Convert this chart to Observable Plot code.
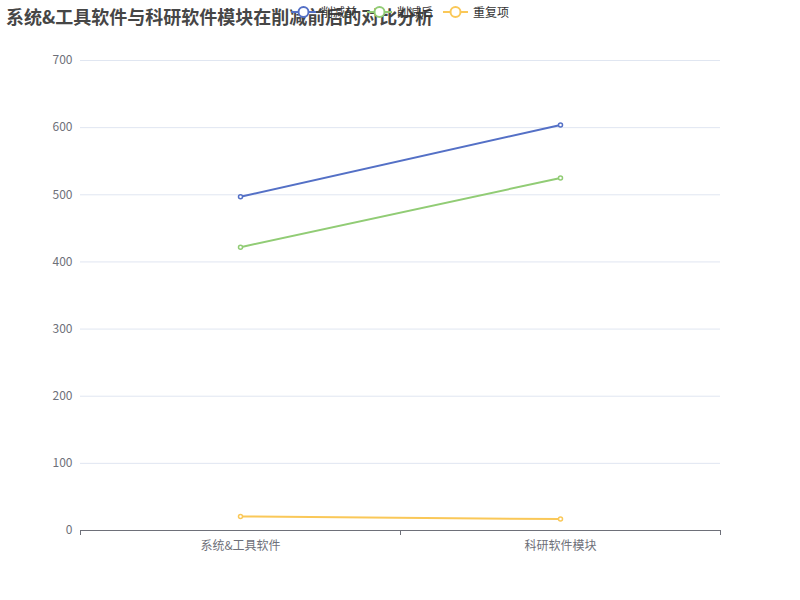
<!DOCTYPE html>
<html><head><meta charset="utf-8">
<script src="https://cdn.jsdelivr.net/npm/d3@7"></script>
<script src="https://cdn.jsdelivr.net/npm/@observablehq/plot@0.6"></script>
<style>
body{margin:0;background:#fff;font-family:"Noto Sans CJK SC","Noto Sans",sans-serif;}
#wrap{position:relative;width:800px;height:600px;}
#title{position:absolute;left:6px;top:3px;font-size:18px;font-weight:bold;color:#464646;white-space:nowrap;}
#legend{position:absolute;left:291px;top:3px;display:flex;gap:10px;font-size:12px;color:#333;}
.li{display:flex;align-items:center;gap:5px;}
#chart{position:absolute;left:0;top:0;}
</style></head>
<body><div id="wrap"><div id="chart"></div><div id="title"></div><div id="legend"></div></div>
<script>
const title = "系统&工具软件与科研软件模块在削减前后的对比分析";
const categories = ["系统&工具软件", "科研软件模块"];
const seriesNames = ["削减前", "削减后", "重复项"];
const before = [497, 604];
const after = [422, 525];
const dup = [21, 17];
const colors = ["#5470c6", "#91cc75", "#fac858"];
const yTicks = [0, 100, 200, 300, 400, 500, 600, 700];

document.getElementById("title").textContent = title;
const leg = document.getElementById("legend");
seriesNames.forEach((n, i) => {
  const d = document.createElement("div"); d.className = "li";
  d.innerHTML = `<svg width="25" height="14"><line x1="0" x2="25" y1="7" y2="7" stroke="${colors[i]}" stroke-width="2"/><circle cx="12.5" cy="7" r="5" fill="#fff" stroke="${colors[i]}" stroke-width="2"/></svg><span>${n}</span>`;
  leg.appendChild(d);
});

const all = [before, after, dup];
const data = [];
all.forEach((arr, s) => arr.forEach((v, i) => data.push({series: seriesNames[s], idx: i + 0.5, cat: categories[i], value: v})));

const plot = Plot.plot({
  width: 800, height: 600,
  marginTop: 60, marginBottom: 70, marginLeft: 80, marginRight: 80,
  style: {fontFamily: '"Noto Sans CJK SC","Noto Sans",sans-serif', fontSize: "12px", color: "#6E7079", background: "transparent"},
  x: {domain: [0, 2]},
  y: {domain: [0, 700]},
  color: {domain: seriesNames, range: colors},
  marks: [
    Plot.gridY(yTicks, {stroke: "#E0E6F1", strokeOpacity: 1}),
    Plot.axisY(yTicks, {tickSize: 0, tickPadding: 8, label: null, fill: "#6E7079", fontSize: 12}),
    Plot.ruleY([0], {stroke: "#6E7079"}),
    Plot.axisX([0, 1, 2], {tickSize: 5, tickFormat: () => "", stroke: "#6E7079", label: null}),
    Plot.axisX([0.5, 1.5], {tickSize: 0, tickPadding: 11, tickFormat: d => categories[Math.floor(d)], fill: "#6E7079", label: null, fontSize: 12}),
    Plot.line(data, {x: "idx", y: "value", z: "series", stroke: "series", strokeWidth: 2}),
    Plot.dot(data, {x: "idx", y: "value", stroke: "series", fill: "#fff", r: 2, strokeWidth: 1.5})
  ]
});
document.getElementById("chart").appendChild(plot);
</script></body></html>
